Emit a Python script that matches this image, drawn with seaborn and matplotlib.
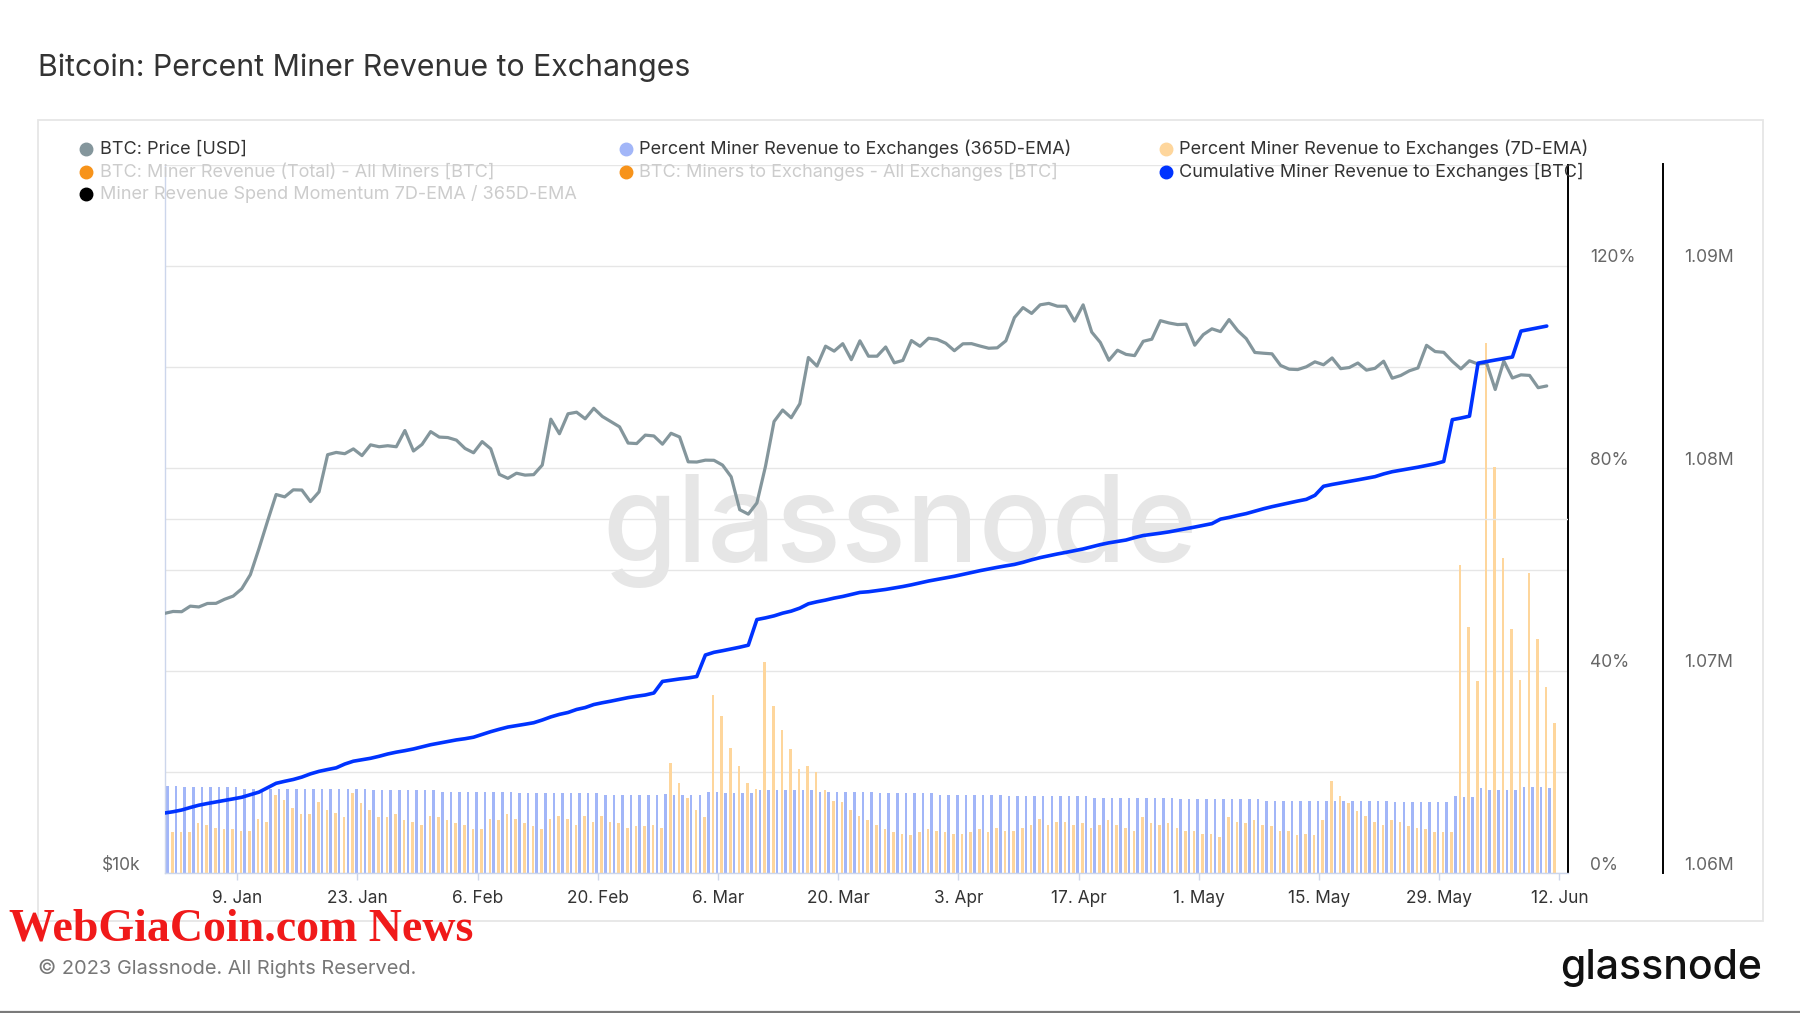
import numpy as np
import pandas as pd
import matplotlib
matplotlib.use("Agg")
import matplotlib.pyplot as plt
import matplotlib.dates as mdates
from matplotlib.lines import Line2D
from matplotlib.patches import Rectangle
from matplotlib.transforms import ScaledTranslation
import seaborn as sns

# ---------------- data ----------------
dates = pd.date_range("2023-01-01", "2023-06-11", freq="D")

btc_price = [
    16625, 16688, 16680, 16863, 16836, 16951, 16955, 17091, 17197, 17446,
    17934, 18869, 19910, 20977, 20880, 21170, 21161, 20688, 21086, 22676,
    22777, 22720, 22934, 22636, 23117, 23032, 23078, 23031, 23774, 22840,
    23139,
    23723, 23471, 23449, 23331, 22955, 22761, 23264, 22939, 21819, 21651,
    21870, 21788, 21808, 22220, 24307, 23623, 24565, 24641, 24327, 24829,
    24437, 24189, 23947, 23198, 23175, 23561, 23523, 23147,
    23646, 23475, 22362, 22353, 22435, 22429, 22219, 21718, 20363, 20187,
    20633, 22163, 24197, 24746, 24375, 25052, 27424, 26966, 28038, 27767,
    28175, 27307, 28333, 27493, 27494, 27994, 27139, 27268, 28348, 28033,
    28478,
    28411, 28199, 27790, 28168, 28177, 28044, 27925, 27947, 28333, 29652,
    30235, 29892, 30400, 30485, 30318, 30315, 29445, 30397, 28822, 28245,
    27276, 27817, 27591, 27525, 28307, 28422, 29473, 29340, 29248, 29268,
    28091, 28680, 29006, 28847, 29534, 28904, 28454, 27695, 27654, 27621,
    27000, 26804, 26784, 26930, 27192, 27036, 27399, 26832, 26890, 27129,
    26754, 26851, 27225, 26334, 26477, 26720, 26868, 28085, 27745, 27702,
    27219,
    26819, 27249, 27075, 27119, 25760, 27238, 26346, 26508, 26480, 25851,
    25940,
]

pct_365d = [
    17.3, 17.3, 17.1, 17.1, 17.1, 17.1, 17.1, 17.1, 17.1, 16.7,
    16.7, 16.7, 16.7, 16.7, 16.7, 16.7, 16.7, 16.7, 16.7, 16.7,
    16.7, 16.7, 16.7, 16.7, 16.5, 16.5, 16.5, 16.5, 16.5, 16.5,
    16.5, 16.5, 16.1, 16.1, 16.1, 16.1, 16.1, 16.1, 16.1, 16.1,
    16.1, 15.9, 15.9, 15.9, 15.9, 15.9, 15.9, 15.9, 15.9, 15.9,
    15.9, 15.5, 15.5, 15.5, 15.5, 15.5, 15.5, 15.5, 15.7, 15.5,
    15.5, 15.5, 15.5, 16.1, 16.1, 15.9, 15.9, 15.9, 15.9, 16.5,
    16.5, 16.5, 16.5, 16.5, 16.5, 16.5, 16.1, 16.1, 16.1, 16.1,
    16.1, 16.1, 16.1, 15.9, 15.9, 15.9, 15.9, 15.9, 15.9, 15.9,
    15.5, 15.5, 15.5, 15.5, 15.5, 15.5, 15.5, 15.5, 15.3, 15.3,
    15.3, 15.3, 15.3, 15.3, 15.3, 15.3, 15.3, 15.3, 14.9, 14.9,
    14.9, 14.9, 14.9, 14.9, 14.9, 14.9, 14.9, 14.9, 14.7, 14.7,
    14.7, 14.7, 14.7, 14.7, 14.7, 14.7, 14.7, 14.7, 14.3, 14.3,
    14.3, 14.3, 14.3, 14.3, 14.3, 14.3, 14.3, 14.3, 14.3, 14.3,
    14.3, 14.3, 14.3, 14.0, 14.0, 14.0, 14.0, 14.0, 14.0, 14.0,
    15.3, 15.1, 15.1, 16.8, 16.5, 16.5, 16.5, 16.5, 17.1, 17.1,
    17.1, 16.9,
]

pct_7d = [
    8.1, 8.1, 8.1, 9.9, 9.6, 9.0, 8.7, 8.7, 8.4, 8.4,
    10.8, 10.2, 15.5, 14.4, 12.9, 11.7, 11.7, 14.1, 12.6, 12.0,
    11.1, 15.9, 13.8, 12.6, 11.1, 11.1, 11.7, 10.5, 10.2, 9.6,
    11.4, 11.1, 10.5, 9.9, 9.6, 8.7, 8.7, 10.8, 10.5, 11.7,
    10.8, 9.9, 9.3, 8.7, 10.8, 11.4, 10.8, 9.6, 11.4, 10.2,
    11.4, 10.2, 9.9, 9.0, 9.3, 9.3, 9.6, 9.0, 21.8, 17.9,
    14.9, 12.6, 11.1, 35.2, 31.0, 24.8, 21.2, 17.9, 16.7, 41.7,
    33.1, 28.4, 24.5, 20.6, 21.2, 20.0, 16.5, 14.3, 14.1, 12.6,
    11.4, 10.5, 9.6, 8.7, 8.1, 7.8, 7.5, 8.1, 8.7, 8.4,
    8.1, 7.8, 7.8, 8.1, 8.7, 8.1, 9.0, 8.4, 8.4, 9.0,
    9.6, 10.8, 9.6, 10.2, 10.2, 9.6, 9.9, 9.0, 9.6, 10.5,
    9.6, 9.0, 8.4, 11.1, 9.9, 9.6, 9.9, 9.0, 8.4, 8.4,
    7.8, 7.8, 7.2, 11.1, 10.2, 9.9, 10.5, 9.6, 9.3, 8.4,
    8.4, 7.5, 7.8, 7.5, 10.5, 18.2, 15.3, 13.8, 12.3, 11.4,
    10.2, 9.6, 10.5, 10.2, 9.3, 9.0, 8.7, 8.1, 8.1, 8.1,
    60.8, 48.6, 38.0, 104.8, 80.2, 62.3, 48.3, 38.1, 59.3, 46.2,
    36.7, 29.6,
]

cum_revenue = [
    1062976, 1063040, 1063125, 1063249, 1063363, 1063447, 1063522, 1063601, 1063675, 1063755,
    1063879, 1064008, 1064226, 1064444, 1064543, 1064633, 1064752, 1064910, 1065034, 1065124,
    1065208, 1065396, 1065535, 1065605, 1065679, 1065778, 1065892, 1065982, 1066056, 1066140,
    1066245, 1066349, 1066428, 1066508, 1066587, 1066646, 1066721, 1066855, 1066994, 1067113,
    1067222, 1067291, 1067361, 1067435, 1067569, 1067723, 1067847, 1067941, 1068090, 1068184,
    1068333, 1068422, 1068501, 1068586, 1068675, 1068744, 1068804, 1068903, 1069474, 1069538,
    1069598, 1069647, 1069717, 1070778, 1070912, 1070991, 1071076, 1071165, 1071264, 1072530,
    1072613, 1072712, 1072846, 1072946, 1073094, 1073308, 1073407, 1073491, 1073590, 1073670,
    1073769, 1073870, 1073903, 1073962, 1074017, 1074091, 1074161, 1074245, 1074339, 1074434,
    1074513, 1074592, 1074667, 1074761, 1074855, 1074945, 1075029, 1075108, 1075183, 1075252,
    1075356, 1075480, 1075589, 1075679, 1075768, 1075847, 1075932, 1076016, 1076125, 1076229,
    1076318, 1076388, 1076457, 1076576, 1076680, 1076735, 1076795, 1076859, 1076938, 1077013,
    1077097, 1077181, 1077266, 1077489, 1077573, 1077672, 1077762, 1077881, 1078000, 1078104,
    1078198, 1078292, 1078382, 1078466, 1078664, 1079111, 1079200, 1079275, 1079349, 1079428,
    1079508, 1079587, 1079721, 1079830, 1079904, 1079979, 1080053, 1080138, 1080222, 1080336,
    1082399, 1082480, 1082573, 1085192, 1085270, 1085345, 1085420, 1085494, 1086774, 1086857,
    1086940, 1087022,
]

x_tick_dates = ["2023-01-09", "2023-01-23", "2023-02-06", "2023-02-20", "2023-03-06",
                "2023-03-20", "2023-04-03", "2023-04-17", "2023-05-01", "2023-05-15",
                "2023-05-29", "2023-06-12"]
x_tick_labels = ["9. Jan", "23. Jan", "6. Feb", "20. Feb", "6. Mar", "20. Mar",
                 "3. Apr", "17. Apr", "1. May", "15. May", "29. May", "12. Jun"]
pct_ticks = [0, 40, 80, 120]
pct_labels = ["0%", "40%", "80%", "120%"]
cum_ticks = [1.06e6, 1.07e6, 1.08e6, 1.09e6]
cum_labels = ["1.06M", "1.07M", "1.08M", "1.09M"]
price_ticks = [10000]
price_labels = ["$10k"]

legend_items = [
    ("BTC: Price [USD]", "#84969c", True),
    ("Percent Miner Revenue to Exchanges (365D-EMA)", "#a2b6f8", True),
    ("Percent Miner Revenue to Exchanges (7D-EMA)", "#fed69c", True),
    ("BTC: Miner Revenue (Total) - All Miners [BTC]", "#f7931a", False),
    ("BTC: Miners to Exchanges - All Exchanges [BTC]", "#f7931a", False),
    ("Cumulative Miner Revenue to Exchanges [BTC]", "#0033ff", True),
    ("Miner Revenue Spend Momentum 7D-EMA / 365D-EMA", "#000000", False),
]

# ---------------- style ----------------
sns.set_theme(style="white")
plt.rcParams["font.family"] = ["Inter", "DejaVu Sans"]

W, H = 1800, 1013
fig = plt.figure(figsize=(W / 100, H / 100), dpi=100)
fig.patch.set_facecolor("white")


def fx(px):
    return px / W


def fy(py):
    return 1 - py / H


L, R, T, B = 164.5, 1567.6, 164.5, 873.3
ax_pct = fig.add_axes([fx(L), fy(B), (R - L) / W, (B - T) / H])
ax_price = ax_pct.twinx()
ax_cum = ax_pct.twinx()

xnum = mdates.date2num(dates)
line_x = xnum - 0.48

# watermark
ax_pct.text(fx(899.5), fy(562.5), "glassnode", transform=fig.transFigure,
            ha="center", va="baseline", fontsize=87, color="#e6e6e6",
            fontweight="medium", zorder=0, clip_on=False)

# bars (percent axis)
ax_pct.bar(xnum - 0.13, pct_365d, width=0.3, color="#a2b6f8", linewidth=0, zorder=2)
ax_pct.bar(xnum + 0.43, pct_7d, width=0.3, color="#fed69c", linewidth=0, zorder=2)
ax_pct.set_ylim(0, 140)
ax_pct.set_yticks(pct_ticks)
ax_pct.set_yticklabels(pct_labels)
ax_pct.set_yticks([20, 60, 100, 140], minor=True)
ax_pct.yaxis.tick_right()
ax_pct.grid(axis="y", which="both", color="#e6e6e6", linewidth=1.0)
ax_pct.grid(axis="x", visible=False)
ax_pct.set_axisbelow(True)

# price line (log axis)
sns.lineplot(x=line_x, y=btc_price, ax=ax_price, color="#84969c", linewidth=2.3,
             estimator=None, legend=False, zorder=3)
ax_price.set_yscale("log")
ax_price.set_ylim(10000, 40000)
ax_price.yaxis.tick_left()
ax_price.set_yticks(price_ticks)
ax_price.set_yticklabels(price_labels)
ax_price.yaxis.set_minor_locator(matplotlib.ticker.NullLocator())
ax_price.axhline(20000, color="#e6e6e6", linewidth=1.0, zorder=0)
ax_price.grid(False)

# cumulative line
sns.lineplot(x=line_x, y=cum_revenue, ax=ax_cum, color="#0033ff", linewidth=2.6,
             estimator=None, legend=False, zorder=4)
ax_cum.set_ylim(1.06e6, 1.095e6)
ax_cum.set_yticks(cum_ticks)
ax_cum.set_yticklabels(cum_labels)
ax_cum.spines["right"].set_position(("axes", (1663 - L) / (R - L)))
ax_cum.grid(False)

# x axis
ax_pct.set_xlim(xnum[0] - 0.48, xnum[0] + 162.95)
ax_pct.set_xticks(mdates.date2num(pd.to_datetime(x_tick_dates)))
ax_pct.set_xticklabels(x_tick_labels)
ax_pct.tick_params(axis="x", which="major", direction="out", length=5, width=1,
                   color="#ccd6eb", labelsize=12.4, labelcolor="#333333", pad=7,
                   bottom=True)

for a in (ax_pct, ax_price, ax_cum):
    a.set_xlabel("")
    a.set_ylabel("")
    for s in a.spines.values():
        s.set_visible(False)
    a.patch.set_visible(False)

ax_pct.spines["bottom"].set_visible(True)
ax_pct.spines["bottom"].set_color("#ccd6eb")
ax_pct.spines["bottom"].set_linewidth(1.0)
ax_pct.spines["right"].set_visible(True)
ax_pct.spines["right"].set_color("#000000")
ax_pct.spines["right"].set_linewidth(1.4)
ax_price.spines["left"].set_visible(True)
ax_price.spines["left"].set_color("#ccd6eb")
ax_price.spines["left"].set_linewidth(1.0)
ax_cum.spines["right"].set_visible(True)
ax_cum.spines["right"].set_color("#000000")
ax_cum.spines["right"].set_linewidth(1.4)

ax_pct.tick_params(axis="y", which="both", length=0, labelsize=12.5,
                   labelcolor="#666666", pad=16, right=True, left=False,
                   labelright=True, labelleft=False)
ax_cum.tick_params(axis="y", which="both", length=0, labelsize=12.6,
                   labelcolor="#666666", pad=15)
ax_price.tick_params(axis="y", which="both", length=0, labelsize=12.5,
                     labelcolor="#666666", pad=17)

shift = ScaledTranslation(0, 10 / 100, fig.dpi_scale_trans)
for a in (ax_pct, ax_cum, ax_price):
    for lab in a.get_yticklabels():
        lab.set_transform(lab.get_transform() + shift)

# ---------------- decorations ----------------
fig.add_artist(Rectangle((fx(38), fy(921)), (1763 - 38) / W, (921 - 120) / H,
                         transform=fig.transFigure, fill=False,
                         edgecolor="#e6e6e6", linewidth=1.3, zorder=0))
fig.add_artist(Line2D([0, 1], [fy(1011.8), fy(1011.8)], transform=fig.transFigure,
                      color="#7a7a7a", linewidth=1.6))

fig.text(fx(38), fy(67.5), "Bitcoin: Percent Miner Revenue to Exchanges",
         ha="left", va="center", fontsize=21.8, color="#333333")

# legend
col_marker = [86, 626, 1166]
col_text = [100, 639, 1179]
row_y = [149, 172, 194]
positions = [(0, 0), (1, 0), (2, 0), (0, 1), (1, 1), (2, 1), (0, 2)]
for (label, color, active), (c, r) in zip(legend_items, positions):
    fig.add_artist(Line2D([fx(col_marker[c])], [fy(row_y[r])], marker="o",
                          markersize=9, color=color, linestyle="none",
                          transform=fig.transFigure, zorder=5))
    fig.text(fx(col_text[c]), fy(row_y[r]), label, ha="left", va="center",
             fontsize=13.0, color="#333333" if active else "#cccccc", zorder=5)

fig.text(fx(9), fy(940), "WebGiaCoin.com News", ha="left", va="baseline",
         fontsize=33, color="#f01a1a", fontweight="bold",
         family=["Liberation Serif", "DejaVu Serif"])
fig.text(fx(38), fy(968), "\u00a9 2023 Glassnode. All Rights Reserved.",
         ha="left", va="center", fontsize=14.4, color="#777777")
fig.text(fx(1762), fy(979), "glassnode", ha="right", va="baseline",
         fontsize=29.5, color="#111111", fontweight="medium")

fig.savefig("out.png", dpi=100)
